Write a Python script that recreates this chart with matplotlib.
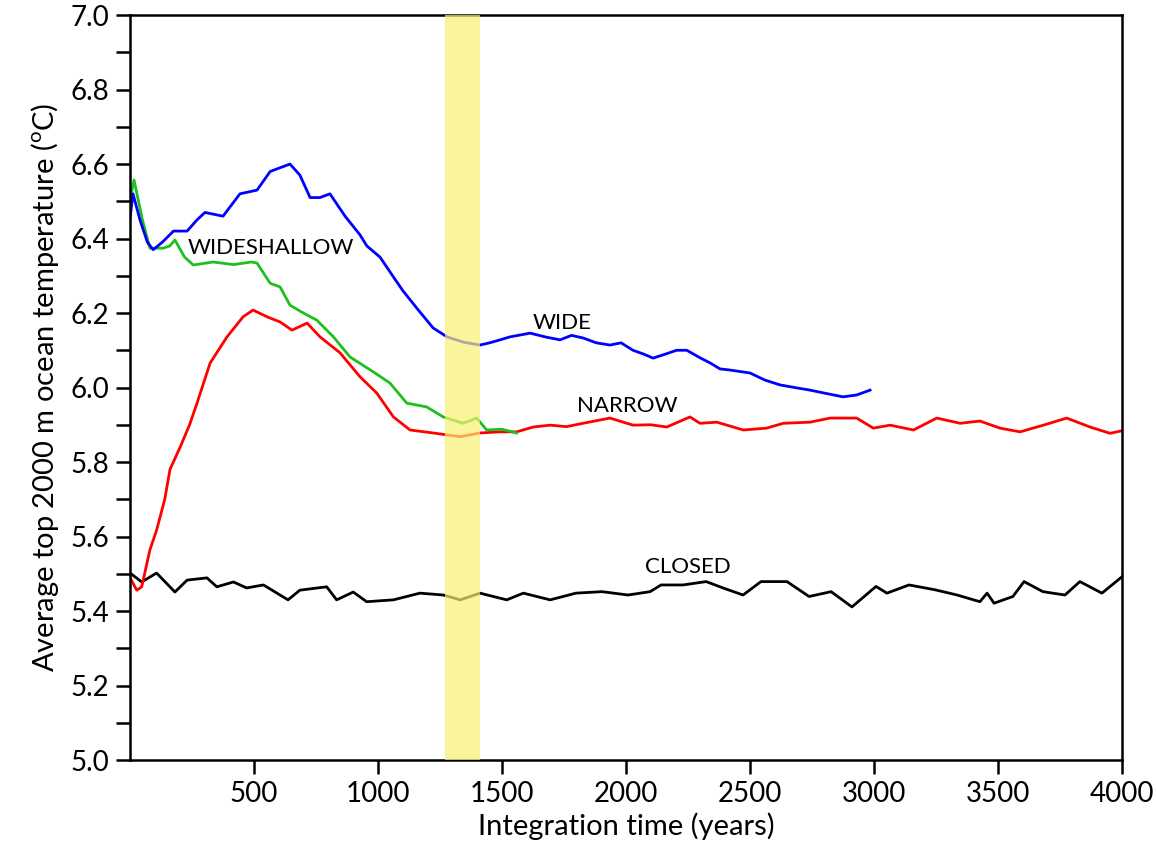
import numpy as np
import matplotlib
matplotlib.use('Agg')
import matplotlib.pyplot as plt

# values
wide_years = [0, 12, 40, 70, 93, 130, 175, 230, 270, 302, 375, 443, 512, 565, 605, 645, 685,
              726, 766, 806, 867, 927, 955, 1008, 1069, 1100, 1160, 1222, 1278, 1343, 1411,
              1450, 1492, 1532, 1573, 1613, 1680, 1734, 1780, 1827, 1880, 1935, 1980, 2028,
              2070, 2109, 2160, 2204, 2245, 2298, 2339, 2379, 2419, 2500, 2560, 2621, 2680,
              2742, 2800, 2875, 2930, 2984]
wide_temp = [6.455, 6.52, 6.45, 6.39, 6.37, 6.39, 6.42, 6.42, 6.45, 6.47, 6.46, 6.52, 6.53,
             6.58, 6.59, 6.60, 6.57, 6.51, 6.51, 6.52, 6.46, 6.41, 6.38, 6.35, 6.29, 6.26,
             6.21, 6.16, 6.136, 6.122, 6.114, 6.12, 6.128, 6.136, 6.141, 6.146, 6.135, 6.128,
             6.14, 6.133, 6.12, 6.114, 6.12, 6.10, 6.09, 6.079, 6.09, 6.10, 6.10, 6.08, 6.066,
             6.05, 6.047, 6.039, 6.02, 6.007, 6.00, 5.993, 5.985, 5.975, 5.98, 5.993]

narrow_years = [0, 27, 47, 80, 107, 140, 161, 202, 240, 270, 323, 391, 456, 496, 552, 605,
                653, 714, 766, 847, 927, 995, 1062, 1129, 1222, 1331, 1411, 1492, 1559, 1626,
                1694, 1760, 1827, 1935, 2028, 2100, 2164, 2258, 2298, 2366, 2473, 2567, 2634,
                2742, 2823, 2930, 2997, 3065, 3159, 3253, 3347, 3427, 3508, 3589, 3683, 3777,
                3871, 3952, 4000]
narrow_temp = [5.489, 5.456, 5.465, 5.564, 5.617, 5.70, 5.78, 5.84, 5.90, 5.958, 6.066,
               6.136, 6.19, 6.208, 6.19, 6.176, 6.154, 6.173, 6.136, 6.093, 6.029, 5.985,
               5.921, 5.886, 5.878, 5.868, 5.878, 5.881, 5.881, 5.894, 5.899, 5.895, 5.904,
               5.918, 5.899, 5.90, 5.894, 5.921, 5.904, 5.907, 5.886, 5.891, 5.904, 5.907,
               5.918, 5.918, 5.891, 5.899, 5.886, 5.918, 5.904, 5.91, 5.891, 5.881, 5.899,
               5.918, 5.894, 5.877, 5.884]

shallow_years = [0, 16, 50, 80, 133, 160, 181, 220, 255, 335, 417, 490, 512, 565, 605, 645,
                 699, 753, 820, 887, 981, 1048, 1116, 1196, 1263, 1343, 1398, 1438, 1500, 1559]
shallow_temp = [6.503, 6.557, 6.45, 6.374, 6.374, 6.38, 6.396, 6.35, 6.329, 6.337, 6.33,
                6.337, 6.334, 6.28, 6.27, 6.221, 6.2, 6.181, 6.136, 6.082, 6.042, 6.012,
                5.958, 5.948, 5.921, 5.904, 5.918, 5.886, 5.888, 5.878]

closed_years = [0, 47, 107, 181, 230, 310, 350, 417, 470, 538, 637, 685, 793, 833, 900, 954,
                1062, 1169, 1263, 1331, 1411, 1519, 1586, 1694, 1798, 1903, 2008, 2097, 2141,
                2230, 2323, 2395, 2472, 2544, 2649, 2738, 2827, 2911, 3008, 3052, 3141, 3246,
                3335, 3427, 3456, 3484, 3560, 3605, 3681, 3770, 3830, 3919, 4000]
closed_temp = [5.502, 5.478, 5.502, 5.451, 5.483, 5.489, 5.465, 5.478, 5.462, 5.470, 5.43,
               5.456, 5.465, 5.43, 5.451, 5.425, 5.43, 5.448, 5.443, 5.43, 5.448, 5.43, 5.448,
               5.43, 5.448, 5.452, 5.443, 5.452, 5.470, 5.470, 5.479, 5.461, 5.443, 5.479,
               5.479, 5.439, 5.452, 5.411, 5.466, 5.448, 5.470, 5.457, 5.443, 5.425, 5.448,
               5.421, 5.439, 5.479, 5.452, 5.443, 5.479, 5.448, 5.492]

band = (1270, 1410)

plt.rcParams['font.family'] = ['Lato', 'DejaVu Sans']
plt.rcParams['mathtext.fontset'] = 'custom'
plt.rcParams['mathtext.rm'] = 'Lato'

fig = plt.figure(figsize=(11.56, 8.49), dpi=100)
ax = fig.add_axes([0.1125, 0.1048, 0.8581, 0.8775])

ax.plot(closed_years, closed_temp, color='black', lw=2, zorder=2)
ax.plot(narrow_years, narrow_temp, color='#ff0000', lw=2, zorder=2)
ax.plot(shallow_years, shallow_temp, color='#1ec01e', lw=2, zorder=2)
ax.plot(wide_years, wide_temp, color='#0000ff', lw=2, zorder=2)

ax.axvspan(band[0], band[1], color='#f9f172', alpha=0.7, lw=0, zorder=3)

ax.text(234, 6.375, 'WIDESHALLOW', fontsize=16, va='center', ha='left')
ax.text(1625, 6.173, 'WIDE', fontsize=16, va='center', ha='left')
ax.text(1802, 5.95, 'NARROW', fontsize=16, va='center', ha='left')
ax.text(2077, 5.518, 'CLOSED', fontsize=16, va='center', ha='left')

ax.set_xlim(0, 4000)
ax.set_ylim(5.0, 7.0)
ax.set_xticks(np.arange(500, 4001, 500))
ax.set_yticks(np.arange(5.0, 7.01, 0.2))
ax.set_yticks(np.arange(5.1, 7.0, 0.2), minor=True)
ax.yaxis.set_major_formatter(matplotlib.ticker.FormatStrFormatter('%.1f'))
ax.tick_params(axis='both', which='both', direction='out', length=10, width=1.8,
               labelsize=20, pad=5)

for s in ax.spines.values():
    s.set_linewidth(1.8)

ax.set_xlabel('Integration time (years)', fontsize=21, labelpad=4)
ax.set_ylabel(r'Average top 2000 m ocean temperature ($^{\rm o}$C)', fontsize=21, labelpad=7)

fig.savefig('out.png', dpi=100)
